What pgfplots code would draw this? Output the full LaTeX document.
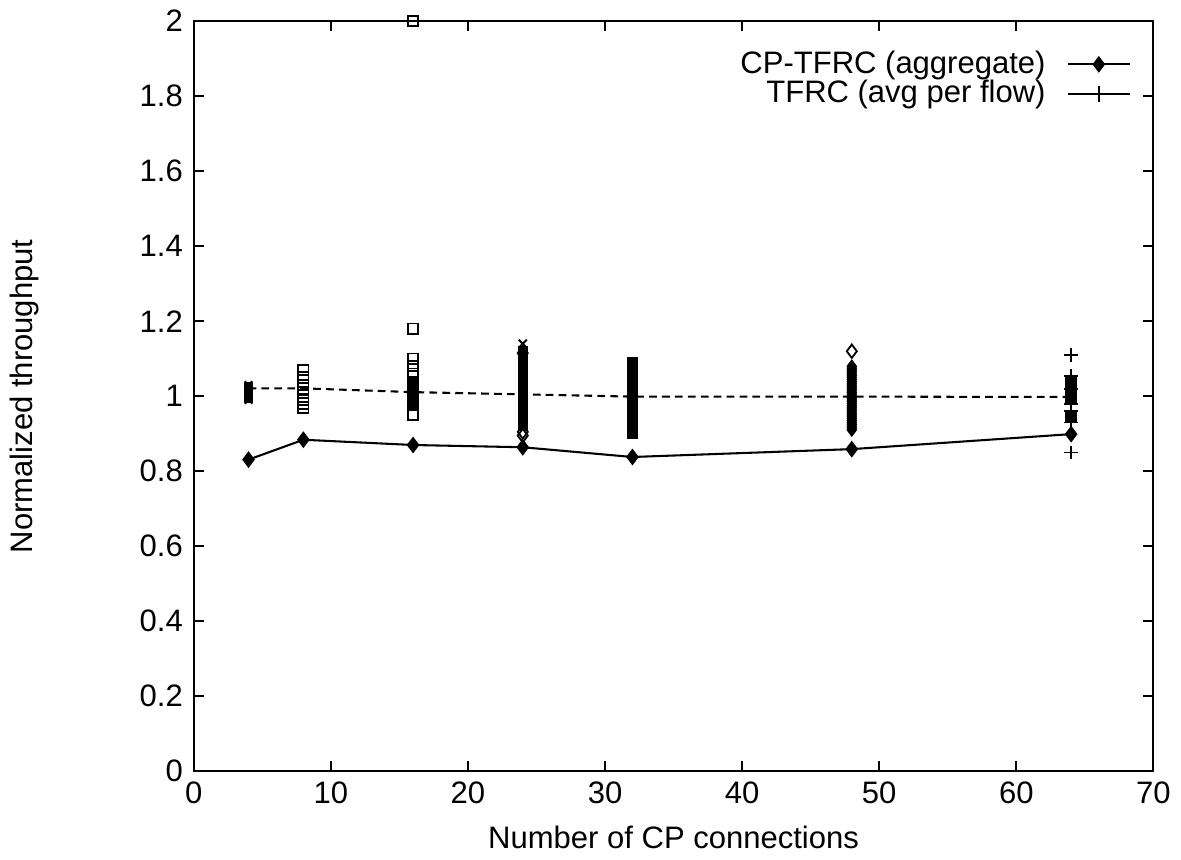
\documentclass[border=0pt]{standalone}
\usepackage{fontspec}
\setmainfont{Liberation Sans}
\usepackage{pgfplots}
\pgfplotsset{compat=1.18}
\begin{document}
\fontsize{12}{14}\selectfont
\begin{tikzpicture}
\begin{axis}[
  scale only axis,
  width=13.05cm, height=10.2cm,
  xmin=0, xmax=70, ymin=0, ymax=2,
  xtick={0,10,...,70},
  ytick={0,0.2,...,2.0},
  yticklabel style={/pgf/number format/fixed, /pgf/number format/precision=1},
  /pgf/number format/assume math mode=true,
  tick align=inside, tick pos=both,
  major tick length=0.14cm,
  axis line style={line width=0.8pt},
  every tick/.style={black, line width=0.8pt},
  xlabel={Number of CP connections},
  ylabel={Normalized throughput},
  xlabel style={at={(axis description cs:0.5,-0.088)}, anchor=center},
  ylabel style={at={(axis description cs:-0.176,0.5)}, anchor=center},
  legend style={draw=none, fill=none, at={(0.985,0.975)}, anchor=north east, font=\fontsize{12}{14}\selectfont, row sep=-3pt},
  legend cell align=right,
  legend plot pos=right,
  legend image code/.code={\draw[mark repeat=2,mark phase=2,#1] plot coordinates {(0cm,0cm) (0.42cm,0cm) (0.84cm,0cm)};},
  clip=false,
]
% aggregate
\addplot[black, line width=0.8pt, mark=diamond*, mark size=2.6pt, mark options={fill=black}]
  coordinates {(4,0.831) (8,0.884) (16,0.870) (24,0.864) (32,0.838) (48,0.859) (64,0.899)};
\addlegendentry{CP-TFRC (aggregate)\hspace*{0.22cm}}
\addlegendimage{black, line width=0.8pt, mark=+, mark size=3pt}
\addlegendentry{TFRC (avg per flow)\hspace*{0.22cm}}
% avg per flow (dashed)
\addplot[black, line width=0.8pt, dash pattern=on 3pt off 2pt, forget plot]
  coordinates {(4,1.021) (8,1.021) (16,1.011) (24,1.005) (32,0.999) (48,0.999) (64,0.998)};
% per-flow scatter
\addplot[only marks, black, mark=x, mark size=2pt, line width=0.7pt, forget plot]
  coordinates {(4,1.03) (4,1.02) (4,1.00) (4,0.99)};
\addplot[only marks, black, mark=square*, mark size=1.6pt, forget plot]
  coordinates {(4,1.025) (4,1.01) (4,0.995)};
\addplot[only marks, black, mark=square, mark size=2pt, line width=0.7pt, forget plot]
  coordinates {(8,1.07) (8,1.05) (8,1.03) (8,1.02) (8,1.01) (8,0.99) (8,0.98) (8,0.97)};
\addplot[only marks, black, mark=square, mark size=2pt, line width=0.7pt, forget plot]
  coordinates {(16,2.0) (16,1.18) (16,1.10) (16,1.08) (16,1.06) (16,0.95)};
\addplot[only marks, black, mark=square*, mark size=2pt, forget plot]
  coordinates {(16,1.04) (16,1.03) (16,1.02) (16,1.01) (16,1.00) (16,0.995) (16,0.99) (16,0.985) (16,0.98) (16,0.975)};
\addplot[only marks, black, mark=square*, mark size=1.8pt, forget plot]
  coordinates {(24,1.12) (24,1.11) (24,1.10) (24,1.09) (24,1.08) (24,1.07) (24,1.06) (24,1.05) (24,1.04) (24,1.03)
  (24,1.02) (24,1.01) (24,1.00) (24,0.99) (24,0.98) (24,0.97) (24,0.96) (24,0.95) (24,0.94) (24,0.93) (24,0.92)};
\addplot[only marks, black, mark=x, mark size=2.2pt, line width=0.7pt, forget plot]
  coordinates {(24,1.14)};
\addplot[only marks, black, mark=diamond, mark size=2.6pt, line width=0.7pt, forget plot]
  coordinates {(24,1.115) (24,0.905) (24,0.895)};
\addplot[only marks, black, mark=square*, mark size=1.8pt, forget plot]
  coordinates {(32,1.09) (32,1.085) (32,1.08) (32,1.07) (32,1.065) (32,1.06) (32,1.05) (32,1.045) (32,1.04) (32,1.03)
  (32,1.025) (32,1.02) (32,1.01) (32,1.005) (32,1.00) (32,0.995) (32,0.99) (32,0.985) (32,0.98) (32,0.975)
  (32,0.97) (32,0.96) (32,0.955) (32,0.95) (32,0.945) (32,0.94) (32,0.935) (32,0.93) (32,0.92) (32,0.915) (32,0.91) (32,0.90)};
\addplot[only marks, black, mark=diamond, mark size=2.6pt, line width=0.7pt, forget plot]
  coordinates {(48,1.12)};
\addplot[only marks, black, mark=diamond*, mark size=2.4pt, forget plot]
  coordinates {(48,1.08) (48,1.075) (48,1.07) (48,1.065) (48,1.06) (48,1.055) (48,1.05) (48,1.045) (48,1.04) (48,1.035)
  (48,1.03) (48,1.025) (48,1.02) (48,1.015) (48,1.01) (48,1.005) (48,1.00) (48,0.995) (48,0.99) (48,0.985)
  (48,0.98) (48,0.975) (48,0.97) (48,0.965) (48,0.96) (48,0.955) (48,0.95) (48,0.945) (48,0.94) (48,0.935)
  (48,0.93) (48,0.925) (48,0.92) (48,0.915) (48,0.91)};
\addplot[only marks, black, mark=+, mark size=2.6pt, line width=0.7pt, forget plot]
  coordinates {(64,1.11) (64,1.055) (64,1.02) (64,0.98) (64,0.96) (64,0.93) (64,0.85)};
\addplot[only marks, black, mark=square*, mark size=2pt, forget plot]
  coordinates {(64,1.04) (64,1.03) (64,1.00) (64,0.995) (64,0.945)};
\end{axis}
\end{tikzpicture}
\end{document}
